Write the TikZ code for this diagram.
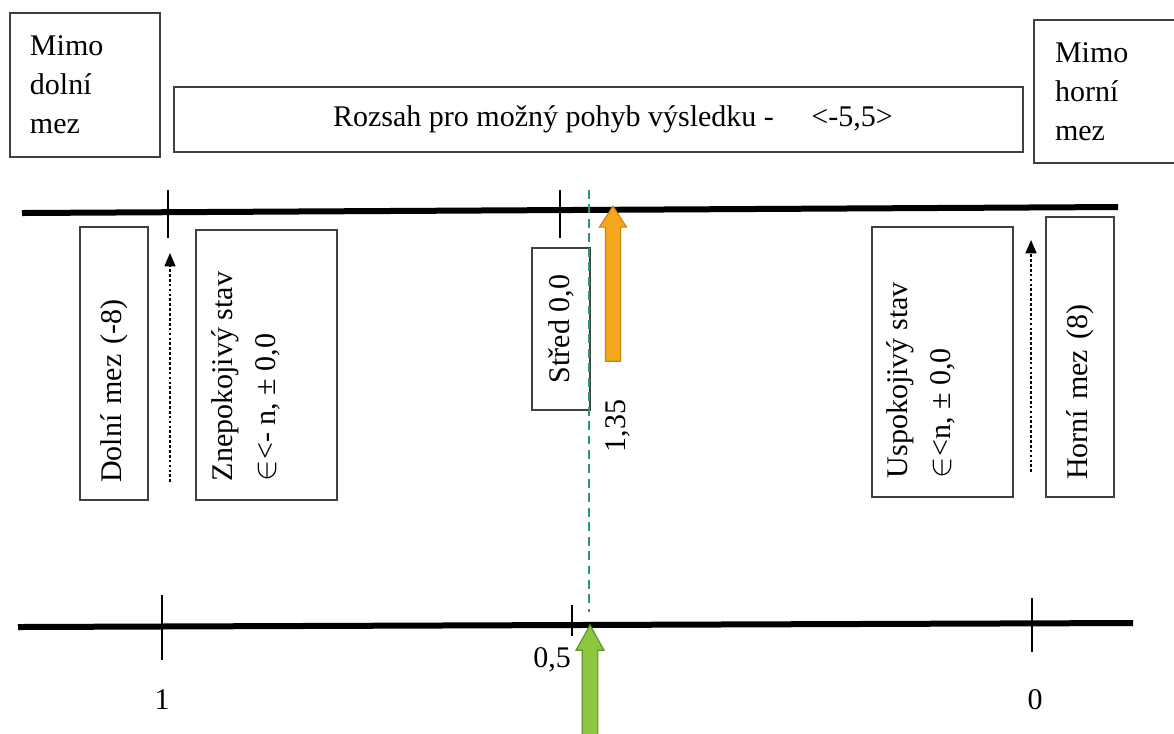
\documentclass[tikz,border=0pt]{standalone}
\usepackage{fontspec}
\setmainfont{Liberation Serif}
\usepackage{tikz}
\definecolor{barorange}{RGB}{245,168,30}
\definecolor{barorangedk}{RGB}{205,130,10}
\definecolor{bargreen}{RGB}{141,198,63}
\definecolor{bargreendk}{RGB}{92,150,42}
\definecolor{midgreen}{RGB}{40,155,110}
\usetikzlibrary{arrows.meta,positioning,shapes.arrows}
\tikzset{
  txtbox/.style={draw=black!75,line width=0.55pt,inner sep=0pt,
                 font=\fontsize{13.5}{17.5}\selectfont},
  vtxt/.style={font=\fontsize{13.5}{19}\selectfont},
  axisline/.style={line width=2.7pt},
  tickline/.style={line width=0.6pt},
  fatarrow/.style={single arrow,rotate=90,inner xsep=0pt,inner ysep=3.15pt,
                   single arrow head extend=2.7pt,line width=0.5pt},
  dotarrow/.style={line width=0.5pt,dash pattern=on 1.2pt off 1pt,
                   -{Triangle[length=6pt,width=5pt]}},
  numlbl/.style={font=\fontsize{13.5}{15.5}\selectfont}
}

\begin{document}
\begin{tikzpicture}[x=0.45pt,y=-0.45pt]
  \useasboundingbox (0,0) rectangle (1174,733);

  %% Outside the limits
  \node[txtbox,minimum width=67.5pt,minimum height=64.8pt,
        text width=49.5pt,inner xsep=9pt,align=left]
        (mimodolni) at (85,85) {Mimo\\dolní\\mez};
  \node[txtbox,minimum width=63.9pt,minimum height=64.35pt,
        text width=45pt,inner xsep=9.45pt,align=left]
        (mimohorni) at (1105,91.5) {Mimo\\horní\\mez};

  %% Range box
  \node[txtbox,line width=1.1pt,minimum width=382pt,minimum height=29.25pt]
        (rozsah) at (598.5,119.5)
        {\hspace*{13pt}Rozsah pro možný pohyb výsledku - \quad <-5,5>};

  %% Axes
  \coordinate (topL) at (22,213);
  \coordinate (topR) at (1118,207);
  \draw[axisline] (topL) -- (topR);
  \coordinate (botL) at (18,627);
  \coordinate (botR) at (1133,623);
  \draw[axisline] (botL) -- (botR);

  \foreach \x in {168,560}
    \draw[tickline] (\x,190) -- (\x,238);
  \draw[tickline] (162,595) -- (162,660);
  \draw[tickline] (572,605) -- (572,636);
  \draw[tickline] (1032,598) -- (1032,652);

  \node[numlbl] (lbljedna) at (162,700) {1};
  \node[numlbl] (lblpul) at (552,660) {0,5};
  \node[numlbl] (lblnula) at (1035,700) {0};

  %% Vertical boxes
  \node[txtbox,vtxt,rotate=90,minimum width=122.85pt,minimum height=30.6pt,
        text width=107.5pt,inner xsep=7.7pt,align=left]
        (dolni) at (114,363.5) {Dolní mez (-8)};
  \node[txtbox,vtxt,rotate=90,inner xsep=8.5pt,inner ysep=7.2pt]
        (znepokojivy) at (266.5,365)
        {\parbox[c][49.05pt][t]{104.5pt}{Znepokojivý stav\\$\in$<- n, ± 0,0}};
  \node[txtbox,vtxt,rotate=90,minimum width=72.9pt,minimum height=26.1pt]
        (stred) at (561,329) {Střed 0,0};
  \node[txtbox,vtxt,rotate=90,inner xsep=8.5pt,inner ysep=6.8pt]
        (uspokojivy) at (942.5,362)
        {\parbox[c][49.85pt][t]{104.5pt}{Uspokojivý stav\\$\in$<n, ± 0,0}};
  \node[txtbox,vtxt,rotate=90,minimum width=126pt,minimum height=30.6pt,
        text width=110.6pt,inner xsep=7.7pt,align=left]
        (horni) at (1080,357) {Horní mez (8)};

  %% Dotted arrows
  \coordinate (dotLa) at (170,482);
  \coordinate (dotLb) at (170,253);
  \draw[dotarrow] (dotLa) -- (dotLb);
  \coordinate (dotRa) at (1031,472);
  \coordinate (dotRb) at (1031,240);
  \draw[dotarrow] (dotRa) -- (dotRb);

  %% Middle
  \coordinate (midtop) at (589,190);
  \coordinate (midbot) at (589,612);
  \draw[midgreen,line width=0.8pt,dash pattern=on 4pt off 2.5pt] (midtop) -- (midbot);

  \node[fatarrow,fill=barorange,draw=barorangedk,minimum height=69.75pt,
        minimum width=11.7pt,single arrow tip angle=66]
        (vysledek) at (613,289.5) {};
  \node[numlbl,rotate=90] (hodnota) at (618,426) {1,35};

  \node[fatarrow,fill=bargreen,draw=bargreendk,minimum height=50.85pt,
        minimum width=12.6pt,single arrow tip angle=58]
        (stredarrow) at (590,688.5) {};
\end{tikzpicture}
\end{document}
